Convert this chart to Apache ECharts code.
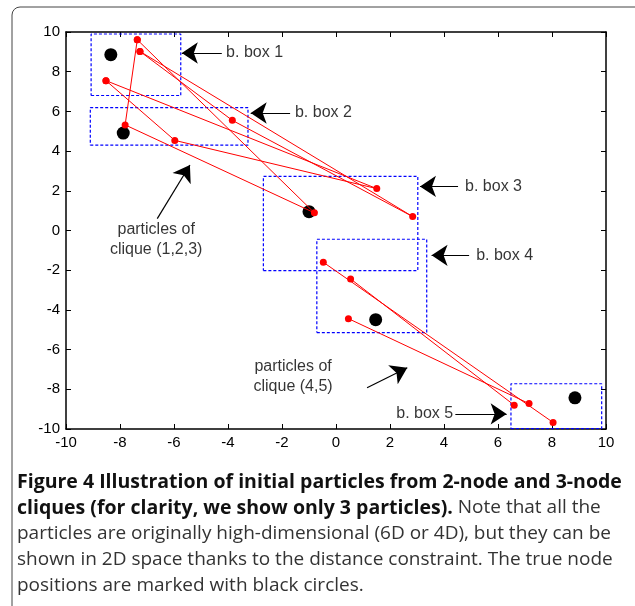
<!DOCTYPE html>
<html>
<head>
<meta charset="utf-8">
<script src="https://cdn.jsdelivr.net/npm/echarts@6/dist/echarts.min.js"></script>
<style>
html,body{margin:0;padding:0;background:#fff;}
#chart{width:635px;height:606px;}
</style>
</head>
<body>
<div id="chart"></div>
<script>
// ---- data ----
var xTicks = [-10, -8, -6, -4, -2, 0, 2, 4, 6, 8, 10];
var yTicks = [-10, -8, -6, -4, -2, 0, 2, 4, 6, 8, 10];

// true node positions (black circles)
var nodes = [[-8.34, 8.86], [-7.88, 4.91], [-1.0, 0.95], [1.47, -4.49], [8.85, -8.43]];

// particles of clique (1,2,3): each is (node1, node2, node3) position, drawn as a closed triangle
var particle123A = [[-7.36, 9.61], [-7.81, 5.32], [-0.80, 0.89]];
var particle123B = [[-8.52, 7.55], [-5.97, 4.54], [1.51, 2.11]];
var particle123C = [[-7.26, 9.02], [-3.84, 5.55], [2.84, 0.70]];

// particles of clique (4,5): each is (node4, node5)
var particle45A = [[-0.47, -1.60], [8.04, -9.67]];
var particle45B = [[0.54, -2.44], [6.60, -8.80]];
var particle45C = [[0.46, -4.44], [7.15, -8.72]];

// bounding boxes [xmin, xmax, ymin, ymax]
var box1 = [-9.07, -5.75, 6.80, 9.90];
var box2 = [-9.10, -3.26, 4.30, 6.19];
var box3 = [-2.69, 3.03, -2.02, 2.73];
var box4 = [-0.71, 3.36, -5.14, -0.44];
var box5 = [6.48, 9.84, -9.98, -7.72];

// annotation labels and arrows (data coordinates)
var boxLabels = ['b. box 1', 'b. box 2', 'b. box 3', 'b. box 4', 'b. box 5'];
var boxLabelAt = [[-4.07, 8.94], [-1.52, 5.92], [4.78, 2.22], [5.19, -1.25], [4.34, -9.24]];
var boxArrows = [
  [[-4.23, 8.94], [-5.71, 8.94]],
  [[-1.70, 5.92], [-3.16, 5.92]],
  [[4.52, 2.22], [3.11, 2.22]],
  [[4.93, -1.25], [3.54, -1.25]],
  [[4.42, -9.24], [6.32, -9.24]]
];
var cliqueLabels = ['particles of\nclique (1,2,3)', 'particles of\nclique (4,5)'];
var cliqueLabelAt = [[-6.66, -0.44], [-1.59, -7.37]];
var cliqueArrows = [
  [[-6.62, 0.60], [-5.41, 3.30]],
  [[1.15, -7.92], [2.64, -6.91]]
];

var captionLines = [
  [['b', 'Figure 4 Illustration of initial particles from 2-node and 3-node']],
  [['b', 'cliques (for clarity, we show only 3 particles).'], ['r', ' Note that all the']],
  [['r', 'particles are originally high-dimensional (6D or 4D), but they can be']],
  [['r', 'shown in 2D space thanks to the distance constraint. The true node']],
  [['r', 'positions are marked with black circles.']]
];

// ---- chart ----
function boxPath(b) {
  return [[b[0], b[2]], [b[1], b[2]], [b[1], b[3]], [b[0], b[3]], [b[0], b[2]]];
}
function closed(p) { return p.concat([p[0]]); }

var chart = echarts.init(document.getElementById('chart'), null, {renderer: 'canvas'});

var axisFont = 'Liberation Sans, Arial, Helvetica, sans-serif';
function mkX(pos, showLabel) {
  return {
    type: 'value', position: pos, min: xTicks[0], max: xTicks[xTicks.length - 1], interval: 2,
    axisLine: {show: true, onZero: false, lineStyle: {color: '#000', width: 1.5}},
    axisTick: {show: true, inside: true, length: 5, lineStyle: {color: '#000', width: 1}},
    axisLabel: {show: showLabel, color: '#000', fontSize: 15, fontFamily: axisFont, margin: 6},
    splitLine: {show: false}
  };
}
function mkY(pos, showLabel) {
  return {
    type: 'value', position: pos, min: yTicks[0], max: yTicks[yTicks.length - 1], interval: 2,
    axisLine: {show: true, onZero: false, lineStyle: {color: '#000', width: 1.5}},
    axisTick: {show: true, inside: true, length: 5, lineStyle: {color: '#000', width: 1}},
    axisLabel: {show: showLabel, color: '#000', fontSize: 15, fontFamily: axisFont, margin: 6},
    splitLine: {show: false}
  };
}

var series = [];
[box1, box2, box3, box4, box5].forEach(function (b) {
  series.push({
    type: 'line', data: boxPath(b), symbol: 'none', silent: true, z: 2,
    lineStyle: {color: '#0000ff', width: 1.2, type: [3, 2]}
  });
});
series.push({
  type: 'scatter', data: nodes, symbol: 'circle', symbolSize: 13, z: 3,
  itemStyle: {color: '#000', opacity: 1}
});
[particle123A, particle123B, particle123C].forEach(function (p) {
  series.push({
    type: 'line', data: closed(p), symbol: 'circle', symbolSize: 7, showSymbol: true, z: 4,
    lineStyle: {color: '#ff0000', width: 1}, itemStyle: {color: '#ff0000', borderWidth: 0}
  });
});
[particle45A, particle45B, particle45C].forEach(function (p) {
  series.push({
    type: 'line', data: p, symbol: 'circle', symbolSize: 7, showSymbol: true, z: 4,
    lineStyle: {color: '#ff0000', width: 1}, itemStyle: {color: '#ff0000', borderWidth: 0}
  });
});
series.push({
  type: 'lines', coordinateSystem: 'cartesian2d', z: 5,
  symbol: ['none', 'arrow'], symbolSize: [12, 16],
  lineStyle: {color: '#000', width: 1.2, opacity: 1},
  data: boxArrows.concat(cliqueArrows).map(function (a) { return {coords: a}; })
});
var labelFont = 'Liberation Sans, Arial, Helvetica, sans-serif';
series.push({
  type: 'scatter', symbolSize: 0, z: 6, silent: true,
  data: boxLabels.map(function (t, i) {
    return {
      value: boxLabelAt[i],
      label: {
        show: true, formatter: t, position: i === 4 ? 'left' : 'right', distance: 0,
        color: '#000', fontSize: 16, fontFamily: labelFont
      }
    };
  })
});
series.push({
  type: 'scatter', symbolSize: 0, z: 6, silent: true,
  data: cliqueLabels.map(function (t, i) {
    return {
      value: cliqueLabelAt[i],
      label: {
        show: true, formatter: t, position: 'inside', align: 'center', verticalAlign: 'middle',
        color: '#000', fontSize: 16, lineHeight: 20, fontFamily: labelFont
      }
    };
  })
});

var capFont = 'Open Sans, Noto Sans, sans-serif';
var graphics = [{
  type: 'rect', shape: {x: 12, y: 7, width: 700, height: 700, r: 8},
  style: {fill: 'none', stroke: '#444', lineWidth: 1}, silent: true, z: -1
}];
captionLines.forEach(function (line, i) {
  graphics.push({
    type: 'text', silent: true, x: 17, y: 482 + i * 26,
    style: {
      text: line.map(function (s) { return '{' + s[0] + '|' + s[1] + '}'; }).join(''),
      verticalAlign: 'middle',
      rich: {
        b: {fontFamily: capFont, fontSize: 19.5, fontWeight: 'bold', fill: '#111'},
        r: {fontFamily: capFont, fontSize: 19, fontWeight: 'normal', fill: '#333'}
      }
    }
  });
});

chart.setOption({
  animation: false,
  backgroundColor: '#fff',
  grid: {left: 66, top: 32, width: 540, height: 397, containLabel: false},
  xAxis: [mkX('bottom', true), mkX('top', false)],
  yAxis: [mkY('left', true), mkY('right', false)],
  series: series,
  graphic: graphics
});
</script>
</body>
</html>
